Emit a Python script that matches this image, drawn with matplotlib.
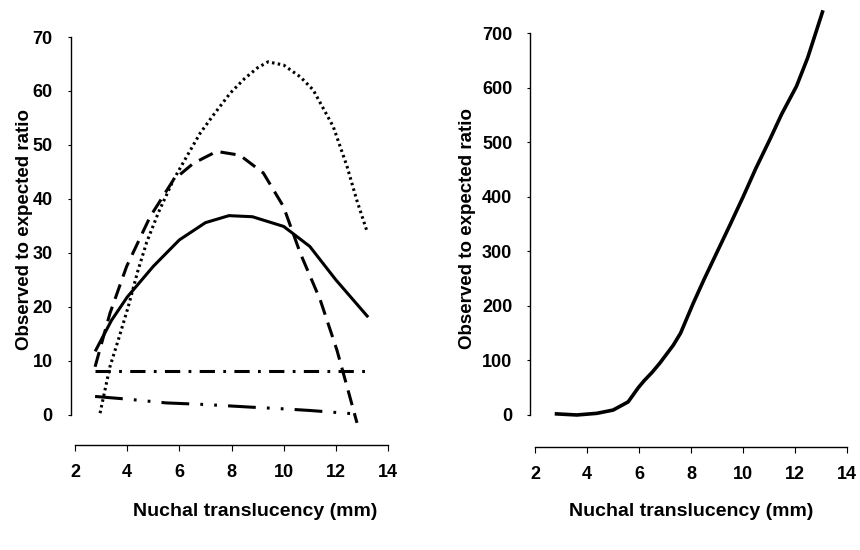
import matplotlib
matplotlib.use("Agg")
import matplotlib.pyplot as plt
import matplotlib.transforms as mtransforms

plt.rcParams['font.family'] = ['Liberation Sans', 'DejaVu Sans']
plt.rcParams['font.weight'] = 'bold'
plt.rcParams['lines.scale_dashes'] = False

# left panel: observed/expected ratio by nuchal translucency
solid_x = [2.8, 3.4, 4.0, 5.0, 6.0, 7.0, 7.9, 8.8, 10.0, 11.0, 12.0, 13.2]
solid_y = [12.0, 17.5, 21.8, 27.5, 32.4, 35.6, 36.9, 36.7, 34.9, 31.2, 25.0, 18.3]

dotted_x = [2.96, 3.34, 3.7, 4.04, 4.4, 4.75, 5.2, 5.77, 6.3, 6.8, 7.3, 7.95, 8.5,
            9.0, 9.4, 10.0, 10.64, 11.13, 11.9, 12.43, 12.8, 13.2]
dotted_y = [0.3, 8.9, 14.5, 20.0, 26.5, 32.0, 37.5, 43.5, 48.0, 52.2, 55.5, 59.6, 62.3,
            64.3, 65.4, 64.8, 62.6, 60.2, 53.4, 46.0, 39.8, 33.9]

dashed_x = [2.77, 3.34, 3.98, 4.88, 5.77, 6.54, 7.43, 8.32, 9.22, 9.99, 10.64, 11.4, 12.04, 12.43, 12.81]
dashed_y = [8.9, 18.8, 27.5, 36.7, 43.5, 46.6, 48.8, 48.1, 44.8, 38.6, 29.9, 21.3, 12.0, 5.2, -1.5]

dashdot_x = [2.77, 13.2]
dashdot_y = [8.2, 8.2]

dashdotdot_x = [2.77, 4.0, 5.5, 7.0, 8.8, 10.0, 11.0, 12.9]
dashdotdot_y = [3.4, 2.9, 2.2, 1.9, 1.4, 1.1, 0.8, 0.1]

# right panel
right_x = [2.82, 3.6, 4.37, 5.0, 5.58, 5.97, 6.2, 6.5, 6.8, 7.32, 7.6, 8.09, 8.5,
           8.99, 9.5, 10.02, 10.5, 11.04, 11.5, 12.07, 12.5, 13.07]
right_y = [2, 0, 3, 9, 24, 50, 63, 78, 95, 128, 150, 205, 248,
           297, 348, 401, 452, 505, 552, 603, 655, 739]

xticks = [2, 4, 6, 8, 10, 12, 14]
left_yticks = [0, 10, 20, 30, 40, 50, 60, 70]
right_yticks = [0, 100, 200, 300, 400, 500, 600, 700]

fig = plt.figure(figsize=(8.6, 5.5), dpi=100)
ax1 = fig.add_axes([0.0872, 0.1909, 0.364, 0.7418])
ax2 = fig.add_axes([0.6224, 0.1873, 0.362, 0.7945])

lw = 2.2
ax1.plot(solid_x, solid_y, color='black', lw=lw)
ax1.plot(dotted_x, dotted_y, color='black', lw=lw, linestyle=(0, (1.8, 2.4)))
ax1.plot(dashed_x, dashed_y, color='black', lw=lw, linestyle=(0, (11, 6)))
ax1.plot(dashdot_x, dashdot_y, color='black', lw=lw, linestyle=(0, (11, 6, 2, 6)))
ax1.plot(dashdotdot_x, dashdotdot_y, color='black', lw=lw, linestyle=(0, (20, 8, 2, 8, 2, 8)))

ax2.plot(right_x, right_y, color='black', lw=2.6, clip_on=False)

# (axes, yticks, ylim, spine offset, xlabel x, ylabel x, ylabel y)
panels = [(ax1, left_yticks, (-5.6, 70), 3, 0.575, -0.133, 0.527),
          (ax2, right_yticks, (-58.7, 742.7), 3.6, 0.5, -0.189, 0.5)]
for ax, yt, ylim, off, xl_x, yl_x, yl_y in panels:
    ax.set_xlim(2, 14)
    ax.set_ylim(*ylim)
    ax.set_xticks(xticks)
    ax.set_yticks(yt)
    ax.spines['top'].set_visible(False)
    ax.spines['right'].set_visible(False)
    ax.spines['left'].set_position(('outward', off))
    ax.spines['left'].set_bounds(yt[0], yt[-1])
    ax.spines['left'].set_linewidth(1.0)
    ax.spines['bottom'].set_linewidth(1.0)
    ax.tick_params(axis='y', length=2, width=0.8, pad=11, labelsize=13)
    ax.tick_params(axis='x', length=4, width=0.8, pad=10, labelsize=13)
    ax.set_xlabel('Nuchal translucency (mm)', fontsize=14, fontweight='bold')
    ax.set_ylabel('Observed to expected ratio', fontsize=13.5, fontweight='bold')
    for lab in ax.get_xticklabels() + ax.get_yticklabels():
        lab.set_fontweight('bold')
    ax.xaxis.set_label_coords(xl_x, 1 - 503 / 550,
                              transform=mtransforms.blended_transform_factory(ax.transAxes, fig.transFigure))
    ax.yaxis.set_label_coords(yl_x, yl_y)

fig.savefig('out.png', dpi=100)
